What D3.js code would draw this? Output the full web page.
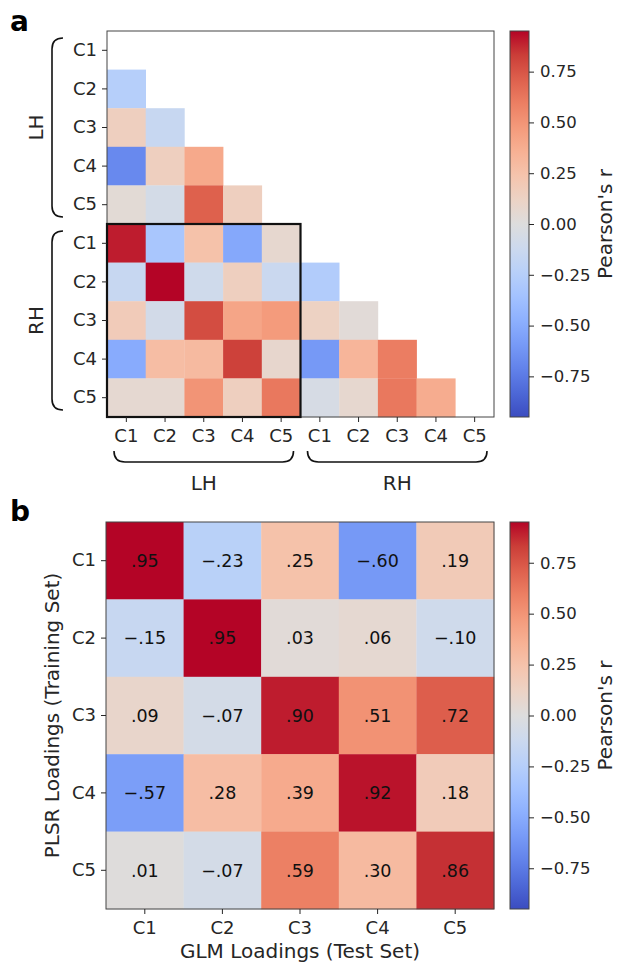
<!DOCTYPE html>
<html>
<head>
<meta charset="utf-8">
<script src="https://cdn.jsdelivr.net/npm/d3@7"></script>
<style>
  body { margin: 0; background: #fff; }
  text { font-family: "DejaVu Sans", sans-serif; }
</style>
</head>
<body>
<script>
// ---- data ----
const components = ["C1", "C2", "C3", "C4", "C5"];
const hemispheres = ["LH", "RH"];
const cbTicks = [-0.75, -0.5, -0.25, 0, 0.25, 0.5, 0.75];

// panel a: LH C1..C5 then RH C1..C5, lower triangle only
const corrA = [
  [null, null, null, null, null, null, null, null, null, null],
  [-0.25, null, null, null, null, null, null, null, null, null],
  [0.15, -0.15, null, null, null, null, null, null, null, null],
  [-0.68, 0.15, 0.40, null, null, null, null, null, null, null],
  [0.04, -0.07, 0.71, 0.15, null, null, null, null, null, null],
  [0.90, -0.32, 0.25, -0.52, 0.07, null, null, null, null, null],
  [-0.15, 0.95, -0.10, 0.15, -0.13, -0.27, null, null, null, null],
  [0.18, -0.08, 0.78, 0.42, 0.47, 0.13, 0.03, null, null, null],
  [-0.50, 0.28, 0.30, 0.82, 0.08, -0.60, 0.33, 0.60, null, null],
  [0.06, 0.06, 0.50, 0.15, 0.62, -0.05, 0.07, 0.62, 0.38, null]
];

// panel b: PLSR loadings (rows) vs GLM loadings (cols)
const corrB = [
  [0.95, -0.23, 0.25, -0.60, 0.19],
  [-0.15, 0.95, 0.03, 0.06, -0.10],
  [0.09, -0.07, 0.90, 0.51, 0.72],
  [-0.57, 0.28, 0.39, 0.92, 0.18],
  [0.01, -0.07, 0.59, 0.30, 0.86]
];

// matplotlib coolwarm, sampled every 1/16
const coolwarmStops = [
  [59, 76, 192], [77, 104, 215], [98, 130, 234], [119, 154, 247],
  [141, 176, 254], [163, 194, 255], [184, 208, 249], [204, 217, 238],
  [221, 221, 221], [236, 211, 197], [245, 196, 173], [247, 177, 148],
  [244, 154, 123], [236, 127, 99], [222, 96, 77], [203, 62, 56], [180, 4, 38]
];

const vmin = -0.95, vmax = 0.95;
const color = d3.scaleLinear()
  .domain(coolwarmStops.map((d, i) => vmin + (vmax - vmin) * i / (coolwarmStops.length - 1)))
  .range(coolwarmStops.map(c => d3.rgb(c[0], c[1], c[2])))
  .interpolate(d3.interpolateRgb)
  .clamp(true);

const tickColor = "#262626";
const tickFont = 18;
const cbFont = 16.5;
const labelFont = 20;

const svg = d3.select("body").append("svg")
  .attr("width", 617)
  .attr("height", 962);

const defs = svg.append("defs");
const grad = defs.append("linearGradient")
  .attr("id", "cw")
  .attr("x1", 0).attr("y1", 1).attr("x2", 0).attr("y2", 0);
grad.selectAll("stop")
  .data(coolwarmStops)
  .enter().append("stop")
  .attr("offset", (d, i) => i / (coolwarmStops.length - 1))
  .attr("stop-color", d => `rgb(${d[0]},${d[1]},${d[2]})`);

function styleAxis(g, size) {
  g.select(".domain").remove();
  g.selectAll(".tick line").attr("stroke", tickColor);
  g.selectAll(".tick text")
    .attr("fill", tickColor)
    .attr("font-size", size)
    .attr("font-family", "DejaVu Sans");
}

function colorbar(top, bottom, left) {
  const cb = d3.scaleLinear().domain([vmin, vmax]).range([bottom, top]);
  svg.append("rect")
    .attr("x", left).attr("y", top)
    .attr("width", 19).attr("height", bottom - top)
    .attr("fill", "url(#cw)")
    .attr("stroke", "#444").attr("stroke-width", 1);
  svg.append("g")
    .attr("transform", `translate(${left + 19},0)`)
    .call(d3.axisRight(cb).tickValues(cbTicks).tickSize(5).tickPadding(6).tickFormat(d3.format(".2f")))
    .call(styleAxis, cbFont);
  svg.append("text")
    .attr("transform", `translate(612,${(top + bottom) / 2}) rotate(-90)`)
    .attr("text-anchor", "middle")
    .attr("font-size", labelFont)
    .attr("fill", tickColor)
    .text("Pearson's r");
}

// ---- panel a ----
const a = {left: 107, right: 494, top: 31, bottom: 417};
const idxA = d3.range(10);
const xa = d3.scaleBand().domain(idxA).range([a.left, a.right]);
const ya = d3.scaleBand().domain(idxA).range([a.top, a.bottom]);

const cellsA = [];
corrA.forEach((row, r) => row.forEach((v, c) => { if (v !== null) cellsA.push({r, c, v}); }));

svg.append("g").selectAll("rect")
  .data(cellsA)
  .enter().append("rect")
  .attr("x", d => xa(d.c))
  .attr("y", d => ya(d.r))
  .attr("width", xa.bandwidth() + 0.3)
  .attr("height", ya.bandwidth() + 0.3)
  .attr("fill", d => color(d.v));

svg.append("rect")
  .attr("x", a.left).attr("y", a.top)
  .attr("width", a.right - a.left).attr("height", a.bottom - a.top)
  .attr("fill", "none").attr("stroke", "#444").attr("stroke-width", 1);

// LH x RH block outline
svg.append("rect")
  .attr("x", xa(0)).attr("y", ya(5))
  .attr("width", xa(4) + xa.bandwidth() - xa(0))
  .attr("height", ya(9) + ya.bandwidth() - ya(5))
  .attr("fill", "none").attr("stroke", "#111").attr("stroke-width", 2.2);

const labA = i => components[i % 5];
svg.append("g")
  .attr("transform", `translate(${a.left},0)`)
  .call(d3.axisLeft(ya).tickSize(5).tickPadding(5).tickFormat(labA))
  .call(styleAxis, tickFont);
svg.append("g")
  .attr("transform", `translate(0,${a.bottom})`)
  .call(d3.axisBottom(xa).tickSize(5).tickPadding(7).tickFormat(labA))
  .call(styleAxis, tickFont);

// braces
const inset = 7, hook = 11;
hemispheres.forEach((h, k) => {
  const y0 = ya(k * 5) + inset, y1 = ya(k * 5 + 4) + ya.bandwidth() - inset;
  const bx = 52;
  svg.append("path")
    .attr("d", `M${bx + hook},${y0} Q${bx},${y0} ${bx},${y0 + hook} L${bx},${y1 - hook} Q${bx},${y1} ${bx + hook},${y1}`)
    .attr("fill", "none").attr("stroke", "#111").attr("stroke-width", 1.6);
  svg.append("text")
    .attr("transform", `translate(43,${(y0 + y1) / 2}) rotate(-90)`)
    .attr("text-anchor", "middle")
    .attr("font-size", labelFont)
    .attr("fill", tickColor)
    .text(h);

  const x0 = xa(k * 5) + inset, x1 = xa(k * 5 + 4) + xa.bandwidth() - inset;
  const by = 462;
  svg.append("path")
    .attr("d", `M${x0},${by - hook} Q${x0},${by} ${x0 + hook},${by} L${x1 - hook},${by} Q${x1},${by} ${x1},${by - hook}`)
    .attr("fill", "none").attr("stroke", "#111").attr("stroke-width", 1.6);
  svg.append("text")
    .attr("x", (x0 + x1) / 2).attr("y", 490)
    .attr("text-anchor", "middle")
    .attr("font-size", labelFont)
    .attr("fill", tickColor)
    .text(h);
});

colorbar(a.top, a.bottom, 510);

svg.append("text")
  .attr("x", 10).attr("y", 31)
  .attr("font-size", 28).attr("font-weight", "bold")
  .text("a");

// ---- panel b ----
const b = {left: 106, right: 494, top: 522, bottom: 909};
const xb = d3.scaleBand().domain(components).range([b.left, b.right]);
const yb = d3.scaleBand().domain(components).range([b.top, b.bottom]);

const cellsB = [];
corrB.forEach((row, r) => row.forEach((v, c) => cellsB.push({r: components[r], c: components[c], v})));

const fmtB = v => d3.format(".2f")(v).replace(/^(−?)0\./, "$1.");

const gb = svg.append("g");
gb.selectAll("rect")
  .data(cellsB)
  .enter().append("rect")
  .attr("x", d => xb(d.c))
  .attr("y", d => yb(d.r))
  .attr("width", xb.bandwidth() + 0.3)
  .attr("height", yb.bandwidth() + 0.3)
  .attr("fill", d => color(d.v));
gb.selectAll("text")
  .data(cellsB)
  .enter().append("text")
  .attr("x", d => xb(d.c) + xb.bandwidth() / 2)
  .attr("y", d => yb(d.r) + yb.bandwidth() / 2)
  .attr("dy", "0.36em")
  .attr("text-anchor", "middle")
  .attr("font-size", 17.5)
  .attr("fill", "#111")
  .text(d => fmtB(d.v));

svg.append("rect")
  .attr("x", b.left).attr("y", b.top)
  .attr("width", b.right - b.left).attr("height", b.bottom - b.top)
  .attr("fill", "none").attr("stroke", "#444").attr("stroke-width", 1);

svg.append("g")
  .attr("transform", `translate(${b.left},0)`)
  .call(d3.axisLeft(yb).tickSize(5).tickPadding(5))
  .call(styleAxis, tickFont);
svg.append("g")
  .attr("transform", `translate(0,${b.bottom})`)
  .call(d3.axisBottom(xb).tickSize(5).tickPadding(7))
  .call(styleAxis, tickFont);

svg.append("text")
  .attr("x", (b.left + b.right) / 2).attr("y", 958)
  .attr("text-anchor", "middle")
  .attr("font-size", labelFont)
  .attr("fill", tickColor)
  .text("GLM Loadings (Test Set)");
svg.append("text")
  .attr("transform", `translate(59,${(b.top + b.bottom) / 2}) rotate(-90)`)
  .attr("text-anchor", "middle")
  .attr("font-size", labelFont)
  .attr("fill", tickColor)
  .text("PLSR Loadings (Training Set)");

colorbar(b.top, b.bottom, 510);

svg.append("text")
  .attr("x", 10).attr("y", 521)
  .attr("font-size", 28).attr("font-weight", "bold")
  .text("b");
</script>
</body>
</html>
